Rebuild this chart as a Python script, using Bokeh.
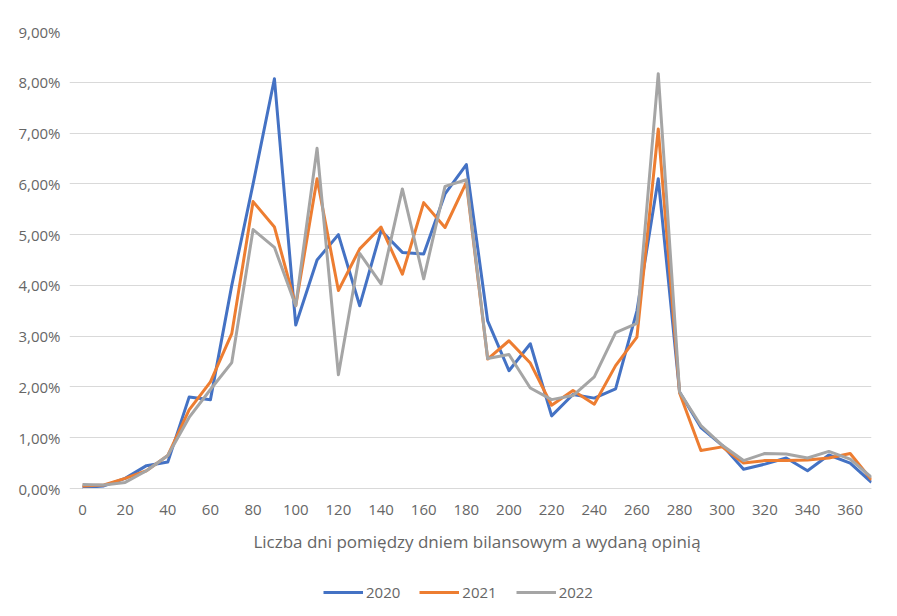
from bokeh.plotting import figure
from bokeh.models import Range1d, FixedTicker, CustomJSTickFormatter, Legend, LegendItem
from bokeh.embed import file_html
from bokeh.resources import INLINE

days = list(range(0, 380, 10))
y2020 = [0.02, 0.05, 0.2, 0.45, 0.52, 1.8, 1.75, 4.0, 6.0, 8.07, 3.22, 4.5, 5.0, 3.6, 5.08,
         4.65, 4.62, 5.8, 6.38, 3.3, 2.32, 2.85, 1.43, 1.85, 1.78, 1.96, 3.5, 6.1, 1.9, 1.2,
         0.85, 0.38, 0.48, 0.6, 0.35, 0.66, 0.5, 0.12]
y2021 = [0.05, 0.07, 0.2, 0.35, 0.65, 1.55, 2.1, 3.05, 5.65, 5.15, 3.6, 6.1, 3.9, 4.72, 5.15,
         4.22, 5.63, 5.14, 6.03, 2.55, 2.91, 2.47, 1.64, 1.93, 1.66, 2.42, 2.98, 7.08, 1.88, 0.75,
         0.82, 0.5, 0.55, 0.55, 0.56, 0.6, 0.69, 0.17]
y2022 = [0.08, 0.07, 0.12, 0.35, 0.65, 1.4, 1.95, 2.48, 5.1, 4.75, 3.6, 6.7, 2.24, 4.63, 4.03,
         5.9, 4.13, 5.95, 6.08, 2.56, 2.64, 1.98, 1.75, 1.83, 2.2, 3.07, 3.25, 8.17, 1.9, 1.24,
         0.85, 0.55, 0.69, 0.68, 0.6, 0.73, 0.58, 0.22]
x_ticks = list(range(0, 380, 20))
y_ticks = list(range(0, 10))
series_names = ["2020", "2021", "2022"]
colors = ["#4472C4", "#ED7D31", "#A5A5A5"]

FONT = "Open Sans"
TXT = "#666666"

# frame extends below the 0% line (legend inside) and a little left of 0 (so "0" is not clipped)
p = figure(frame_width=802, frame_height=581, output_backend="svg", toolbar_location=None,
           x_range=Range1d(-6.096, 370), y_range=Range1d(-2.442, 9),
           min_border_left=69, min_border_right=18, min_border_top=31, min_border_bottom=0)
p.outline_line_color = None
p.background_fill_color = "white"
p.border_fill_color = "white"

p.xaxis.ticker = FixedTicker(ticks=x_ticks)
p.yaxis.ticker = FixedTicker(ticks=y_ticks)
p.yaxis.formatter = CustomJSTickFormatter(code="return tick.toFixed(2).replace('.', ',') + '%';")
p.xaxis.fixed_location = 0
p.xaxis.bounds = (0, 370)

for ax in (p.xaxis[0], p.yaxis[0]):
    ax.major_label_text_font = FONT
    ax.major_label_text_font_size = "15px"
    ax.major_label_text_color = TXT
    ax.major_tick_line_color = None
    ax.minor_tick_line_color = None
p.yaxis.axis_line_color = None
p.xaxis.axis_line_color = "#d9d9d9"
p.xaxis.major_label_standoff = 10
p.yaxis.major_label_standoff = 3
p.xaxis.axis_label = "Liczba dni pomiędzy dniem bilansowym a wydaną opinią"
p.xaxis.axis_label_text_font = FONT
p.xaxis.axis_label_text_font_size = "17px"
p.xaxis.axis_label_text_font_style = "normal"
p.xaxis.axis_label_text_color = TXT
p.xaxis.axis_label_standoff = 12

p.xgrid.grid_line_color = None
p.ygrid.grid_line_color = "#d9d9d9"
p.ygrid.grid_line_width = 1
p.ygrid.bounds = (0, 370)

items = []
for name, ys, c in zip(series_names, [y2020, y2021, y2022], colors):
    r = p.line(days, ys, line_color=c, line_width=3, line_join="round")
    items.append(LegendItem(label=name, renderers=[r]))

legend = Legend(items=items, orientation="horizontal", location=(254, 10),
                border_line_color=None, background_fill_alpha=0,
                label_text_font=FONT, label_text_font_size="15px", label_text_color=TXT,
                glyph_width=40, glyph_height=20, label_standoff=3, spacing=19,
                margin=0, padding=2)
p.add_layout(legend, "center")

open("out.html", "w").write(file_html(p, INLINE))
